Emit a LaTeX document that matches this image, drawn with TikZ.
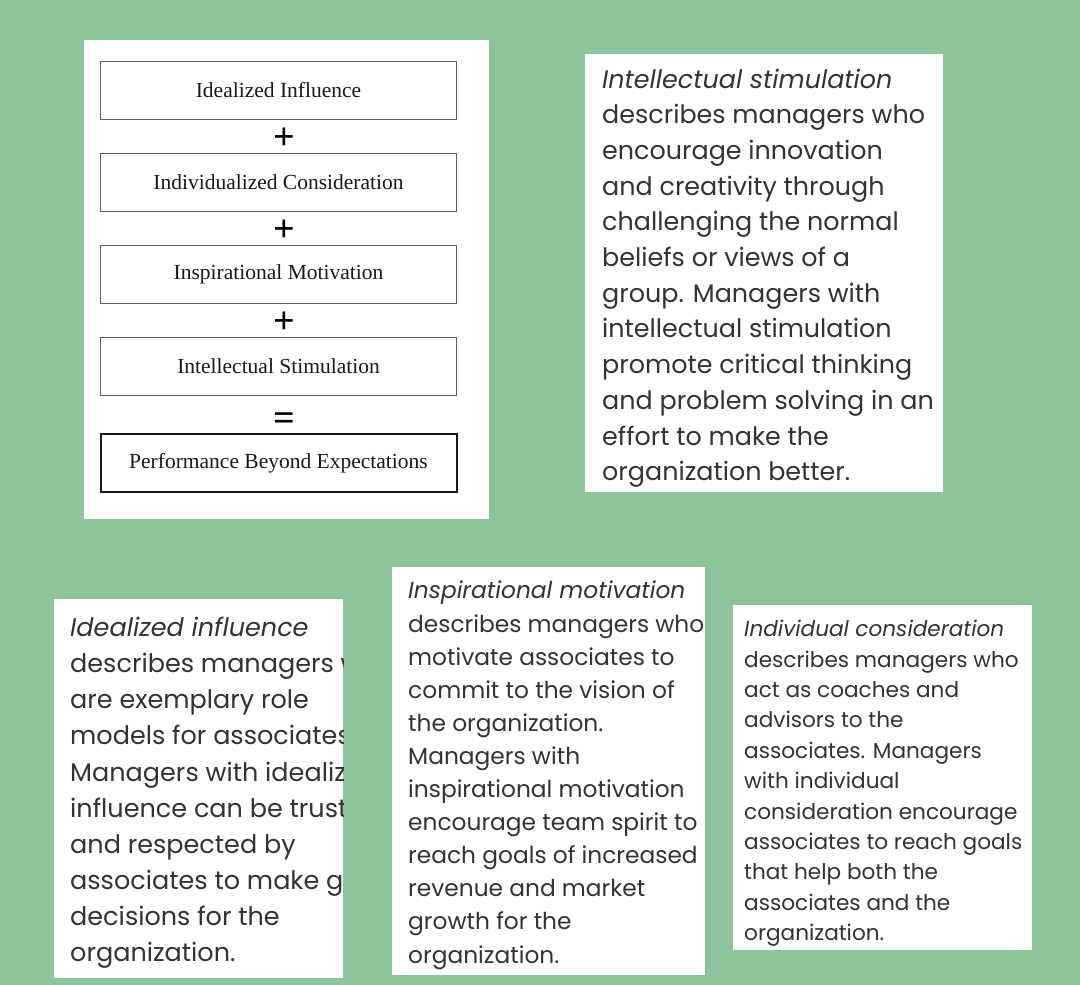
\documentclass[tikz,border=0pt]{standalone}
\usepackage{fontspec}
\setmainfont{Liberation Serif}
\newfontfamily\cardfont{Poppins}
\usetikzlibrary{positioning}
\definecolor{cbg}{HTML}{8DC49B}
\definecolor{cink}{HTML}{333333}
\definecolor{cframe}{HTML}{5E5E5E}
\tikzset{
  panel/.style={fill=white, draw=none},
  stage/.style={draw=cframe, fill=white, line width=1.3pt, minimum width=356pt, minimum height=58pt, inner sep=0pt, font=\fontsize{21.5}{24}\selectfont, text=black!90},
  result/.style={stage, draw=black!90, line width=2pt},
  sign/.style={font=\bfseries\fontsize{38}{38}\selectfont, inner sep=0pt},
  card/.style={anchor=north west, inner sep=0pt, align=left, text=cink, font=\cardfont#1},
}
\begin{document}
\begin{tikzpicture}[x=1pt, y=-1pt]
  \useasboundingbox (0,0) rectangle (1080,985);
  \fill[cbg] (0,0) rectangle (1080,985);
  % left panel with the four components
  \fill[panel] (84,40) rectangle (489,519);
  \foreach \t/\y [count=\i] in {Idealized Influence/90.5, Individualized Consideration/182.5, Inspirational Motivation/274.5, Intellectual Stimulation/366.5} {
    \node[stage] (s\i) at (278.5, \y) {\t};
  }
  \node[result] (r) at (278.5, 463) {Performance Beyond Expectations};
  \foreach \y [count=\i] in {138.5, 231, 323} {
    \node[sign] (p\i) at (284, \y) {+};
  }
  \node[sign] (eq) at (284, 422) {=};
  % description cards
  \fill[panel] (585,54) rectangle (943,492);
  \node[card={\fontsize{25.4}{35.7}\selectfont}] (is) at (602, 68.5) {\textit{Intellectual stimulation}\\
    describes managers who\\ encourage innovation\\ and creativity through\\ challenging the normal\\
    beliefs or views of a\\ group. Managers with\\ intellectual stimulation\\ promote critical thinking\\
    and problem solving in an\\ effort to make the\\ organization better.};
  \fill[panel] (54,599) rectangle (343,978);
  \begin{scope}
    \clip (54,599) rectangle (343,978);
    \node[card={\fontsize{25.5}{36.1}\selectfont}] (ii) at (70, 617) {\textit{Idealized influence}\\
      describes managers who\\ are exemplary role\\ models for associates.\\ Managers with idealized\\
      influence can be trusted\\ and respected by\\ associates to make good\\ decisions for the\\ organization.};
  \end{scope}
  \fill[panel] (392,567) rectangle (705,975);
  \node[card={\fontsize{23.3}{33.1}\selectfont}] (im) at (408, 581) {\textit{Inspirational motivation}\\
    describes managers who\\ motivate associates to\\ commit to the vision of\\ the organization.\\
    Managers with\\ inspirational motivation\\ encourage team spirit to\\ reach goals of increased\\
    revenue and market\\ growth for the\\ organization.};
  \fill[panel] (733,605) rectangle (1032,950);
  \node[card={\fontsize{21.6}{30.4}\selectfont}] (ic) at (744, 620) {\textit{Individual consideration}\\
    describes managers who\\ act as coaches and\\ advisors to the\\ associates. Managers\\
    with individual\\ consideration encourage\\ associates to reach goals\\ that help both the\\
    associates and the\\ organization.};
\end{tikzpicture}
\end{document}
